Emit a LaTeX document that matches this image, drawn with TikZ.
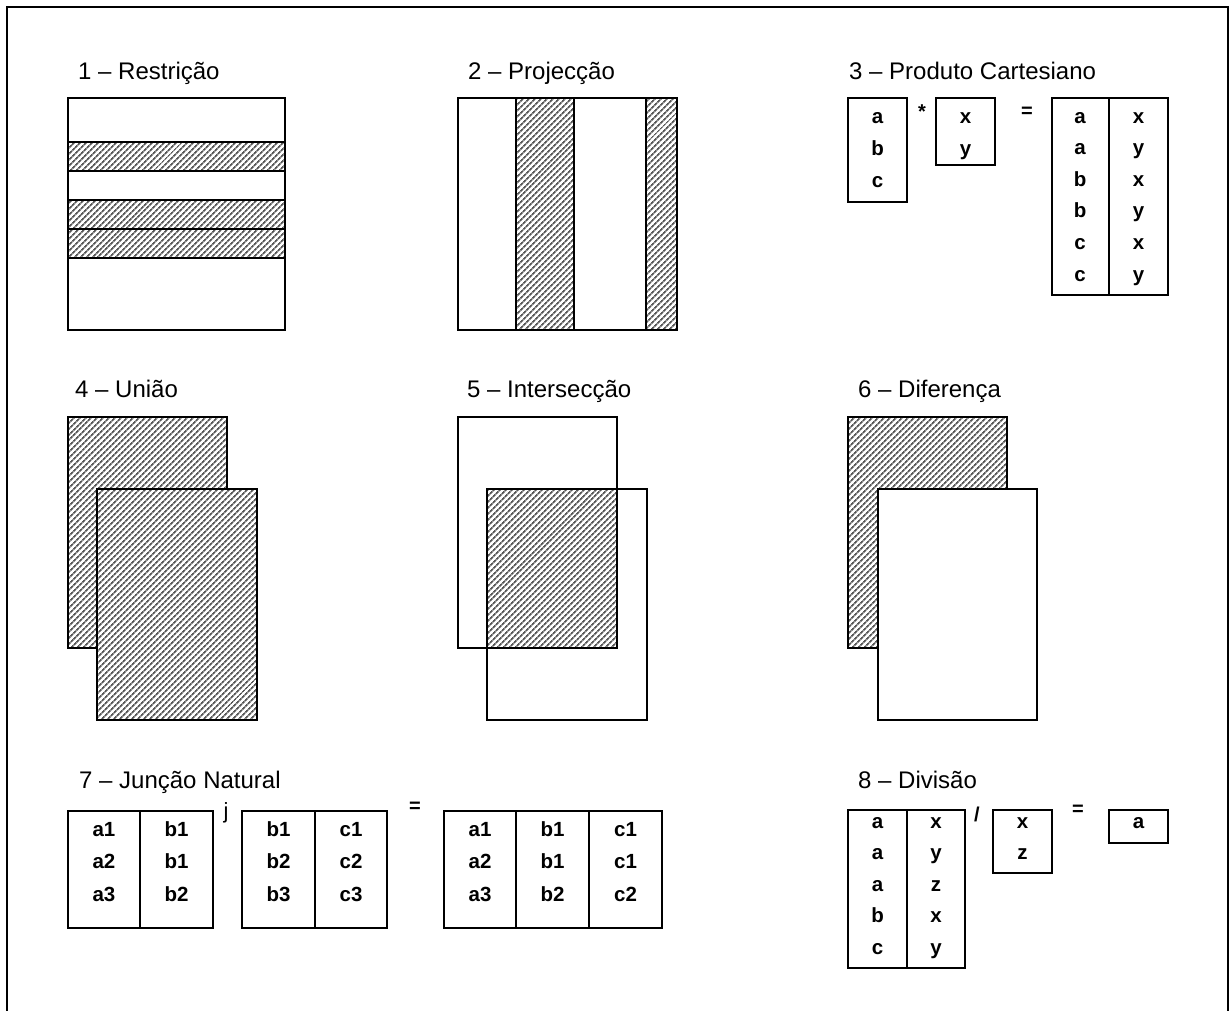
\documentclass[tikz,border=0pt]{standalone}
\usepackage{fontspec}
\setmainfont{Liberation Sans}
\usetikzlibrary{patterns.meta}
\tikzset{
  frame/.style={line width=2pt},
  box/.style={draw=black,line width=1.5pt},
  hatched/.style={preaction={fill=white},pattern={Lines[angle=45,distance=4pt,line width=1.8pt]},pattern color=black!65},
  title/.style={anchor=base west,inner sep=0pt,font=\fontsize{24}{28}\selectfont},
  cell/.style={anchor=base,inner sep=0pt,font=\fontsize{20.5}{24}\selectfont\bfseries},
  sym/.style={anchor=base,inner sep=0pt,font=\fontsize{20}{24}\selectfont\bfseries},
}
\begin{document}
\begin{tikzpicture}[x=1pt,y=-1pt]
\useasboundingbox (0,0) rectangle (1231,1010);
\fill[white] (0,0) rectangle (1231,1010);
% frame
\draw[frame] (7,1012) -- (7,7) -- (1228,7) -- (1228,1012);

% titles
\node[title] (t1) at (78,79) {1 – Restrição};
\node[title] (t2) at (468,79) {2 – Projecção};
\node[title] (t3) at (849,79) {3 – Produto Cartesiano};
\node[title] (t4) at (75,397) {4 – União};
\node[title] (t5) at (467,397) {5 – Intersecção};
\node[title] (t6) at (858,397) {6 – Diferença};
\node[title] (t7) at (79,788) {7 – Junção Natural};
\node[title] (t8) at (858,788) {8 – Divisão};

% 1 - Restricao
\path[hatched] (68,142) rectangle (285,171);
\path[hatched] (68,200) rectangle (285,258);
\draw[box] (68,98) rectangle (285,330);
\draw[box] (68,142) -- (285,142) (68,171) -- (285,171)
           (68,200) -- (285,200) (68,229) -- (285,229) (68,258) -- (285,258);

% 2 - Projeccao
\path[hatched] (516,98) rectangle (574,330);
\path[hatched] (646,98) rectangle (677,330);
\draw[box] (458,98) rectangle (677,330);
\draw[box] (516,98) -- (516,330) (574,98) -- (574,330) (646,98) -- (646,330);

% 3 - Produto Cartesiano
\draw[box] (848,98) rectangle (907,202);
\draw[box] (936,98) rectangle (995,165);
\draw[box] (1052,98) rectangle (1168,295);
\draw[box] (1109,98) -- (1109,295);
\foreach \t [count=\i] in {a,b,c}
  \node[cell] (p1-\i) at (877.5,{123+(\i-1)*32}) {\t};
\foreach \t [count=\i] in {x,y}
  \node[cell] (p2-\i) at (965.5,{123+(\i-1)*32}) {\t};
\foreach \t [count=\i] in {a,a,b,b,c,c}
  \node[cell] (p3a-\i) at (1080,{123+(\i-1)*31.6}) {\t};
\foreach \t [count=\i] in {x,y,x,y,x,y}
  \node[cell] (p3b-\i) at (1138.5,{123+(\i-1)*31.6}) {\t};
\node[sym] (star) at (922,118) {*};
\node[sym] (eq3) at (1027,117) {=};

% 4 - Uniao
\draw[box,hatched] (68,417) rectangle (227,648);
\draw[box,hatched] (97,489) rectangle (257,720);

% 5 - Interseccao
\path[hatched] (487,489) rectangle (617,648);
\draw[box] (458,417) rectangle (617,648);
\draw[box] (487,489) rectangle (647,720);

% 6 - Diferenca
\draw[box,hatched] (848,417) rectangle (1007,648);
\draw[box,fill=white] (878,489) rectangle (1037,720);

% 7 - Juncao Natural
\draw[box] (68,811) rectangle (213,928);
\draw[box] (140,811) -- (140,928);
\draw[box] (242,811) rectangle (387,928);
\draw[box] (315,811) -- (315,928);
\draw[box] (444,811) rectangle (662,928);
\draw[box] (516,811) -- (516,928) (589,811) -- (589,928);
\foreach \a/\b [count=\i] in {a1/b1,a2/b1,a3/b2}{
  \node[cell] (j1a-\i) at (104,{836+(\i-1)*32.5}) {\a};
  \node[cell] (j1b-\i) at (176.5,{836+(\i-1)*32.5}) {\b};
}
\foreach \a/\b [count=\i] in {b1/c1,b2/c2,b3/c3}{
  \node[cell] (j2a-\i) at (278.5,{836+(\i-1)*32.5}) {\a};
  \node[cell] (j2b-\i) at (351,{836+(\i-1)*32.5}) {\b};
}
\foreach \a/\b/\c [count=\i] in {a1/b1/c1,a2/b1/c1,a3/b2/c2}{
  \node[cell] (j3a-\i) at (480,{836+(\i-1)*32.5}) {\a};
  \node[cell] (j3b-\i) at (552.5,{836+(\i-1)*32.5}) {\b};
  \node[cell] (j3c-\i) at (625.5,{836+(\i-1)*32.5}) {\c};
}
\node[anchor=base,inner sep=0pt,font=\fontsize{22}{26}\selectfont] (jsym) at (226,818) {j};
\node[sym] (eq7) at (415,812) {=};

% 8 - Divisao
\draw[box] (848,810) rectangle (965,968);
\draw[box] (907,810) -- (907,968);
\draw[box] (993,810) rectangle (1052,873);
\draw[box] (1109,810) rectangle (1168,843);
\foreach \a/\b [count=\i] in {a/x,a/y,a/z,b/x,c/y}{
  \node[cell] (d1a-\i) at (877.5,{828+(\i-1)*31.5}) {\a};
  \node[cell] (d1b-\i) at (936,{828+(\i-1)*31.5}) {\b};
}
\foreach \t [count=\i] in {x,z}
  \node[cell] (d2-\i) at (1022.5,{828+(\i-1)*31.5}) {\t};
\node[cell] (d3) at (1138.5,828) {a};
\node[sym] (slash) at (977,821) {/};
\node[sym] (eq8) at (1078,815) {=};
\end{tikzpicture}
\end{document}
